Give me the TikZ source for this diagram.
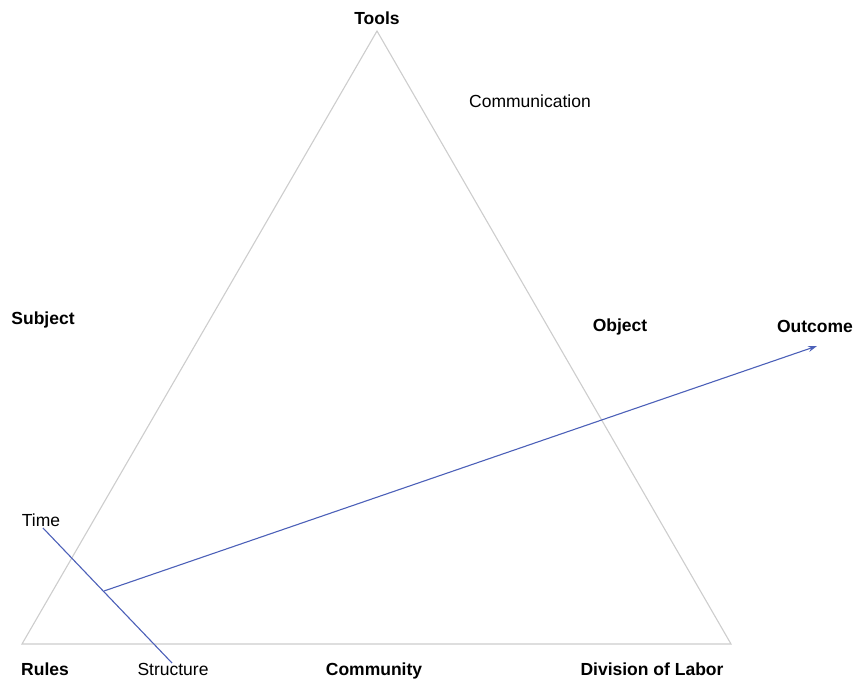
\documentclass[tikz,border=0pt]{standalone}
\usepackage{fontspec}
\setmainfont{Liberation Sans}
\usetikzlibrary{arrows.meta}
\definecolor{edgegray}{RGB}{205,205,205}
\definecolor{flowblue}{RGB}{76,96,184}
\begin{document}
\begin{tikzpicture}[x=1pt,y=-1pt,
  lbl/.style={font=\fontsize{17.5}{20}\selectfont\bfseries, inner sep=0pt, text depth=0pt, anchor=center},
  plain/.style={font=\fontsize{17.5}{20}\selectfont, inner sep=0pt, text depth=0pt, anchor=center},
  side/.style={draw=edgegray, line width=1.1pt},
  flow/.style={draw=flowblue, line width=1.1pt}]
\useasboundingbox (0,0) rectangle (854,679);
% triangle corners
\coordinate (top) at (377,31);
\coordinate (bl) at (22,644);
\coordinate (br) at (731,644);
\draw[side, line join=miter] (top) -- (br) -- (bl) -- cycle;
% labels
\node[lbl] (tools) at (377,18) {Tools};
\node[plain] (comm) at (530,101) {Communication};
\node[lbl] (subject) at (43,318) {Subject};
\node[lbl] (object) at (620,325) {Object};
\node[lbl] (outcome) at (815,326) {Outcome};
\node[plain] (time) at (41,520) {Time};
\node[lbl] (rules) at (45,669) {Rules};
\node[plain] (structure) at (173,669) {Structure};
\node[lbl] (community) at (374,669) {Community};
\node[lbl] (division) at (652,669) {Division of Labor};
% time axis and flow arrow
\coordinate (tstart) at (43,528);
\coordinate (tend) at (172,663);
\coordinate (origin) at (104,591);
\coordinate (tip) at (817,346);
\draw[flow] (tstart) -- (tend);
\draw[flow, -{Stealth[length=9pt,width=6pt]}] (origin) -- (tip);
\end{tikzpicture}
\end{document}
